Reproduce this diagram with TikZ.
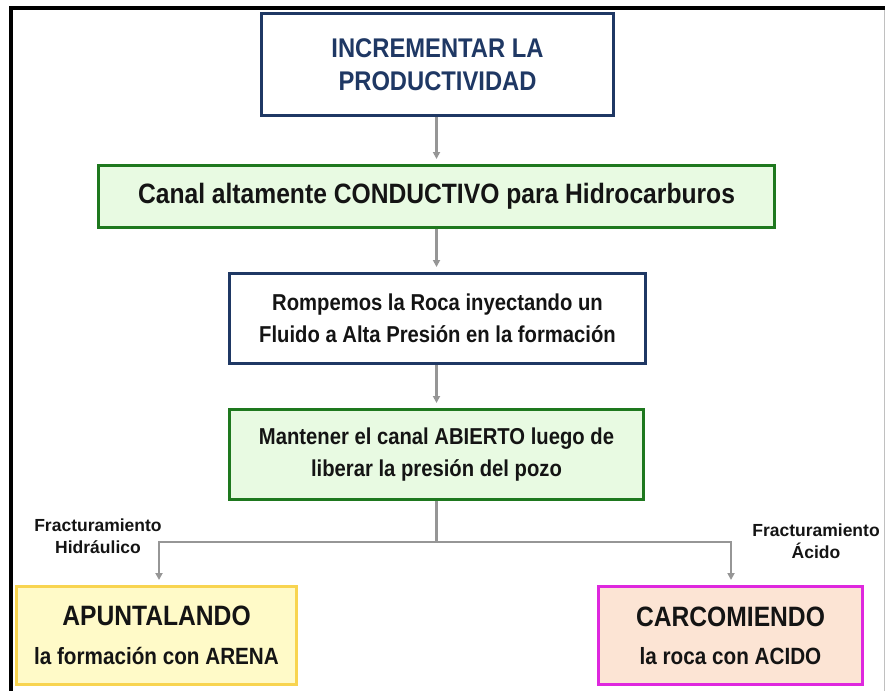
\documentclass[tikz,border=0pt]{standalone}
\usepackage{fontspec}
\setmainfont{Liberation Sans}[FakeStretch=0.88]
\newfontfamily\lblfont{Liberation Sans}
\usetikzlibrary{arrows.meta}
\definecolor{navy}{RGB}{31,56,100}
\definecolor{grnline}{RGB}{30,120,30}
\definecolor{grnfill}{RGB}{232,250,226}
\definecolor{ylwline}{RGB}{248,212,80}
\definecolor{ylwfill}{RGB}{255,250,200}
\definecolor{magline}{RGB}{222,40,222}
\definecolor{pchfill}{RGB}{252,228,212}
\definecolor{connc}{RGB}{150,150,150}
\definecolor{txt}{RGB}{20,20,20}
\tikzset{
  box/.style={draw, line width=3pt, align=center, inner sep=0pt, text=txt},
  bluebox/.style={box, draw=navy, fill=white},
  greenbox/.style={box, draw=grnline, fill=grnfill},
  ylwbox/.style={box, draw=ylwline, fill=ylwfill},
  magbox/.style={box, draw=magline, fill=pchfill},
  conn/.style={draw=connc, line width=2.2pt, -{Triangle[length=7pt,width=7pt]}, shorten >=5pt},
  plain/.style={draw=connc, line width=2.2pt},
  lbl/.style={align=center, inner sep=0pt, text=txt, font=\lblfont\bfseries\fontsize{17.5}{22}\selectfont},
  midfont/.style={font=\bfseries\fontsize{23}{32}\selectfont}
}
\begin{document}
\begin{tikzpicture}[x=1pt,y=-1pt]
\useasboundingbox (0,0) rectangle (885,690);
\draw[line width=4pt] (11,692) -- (11,8.5) -- (887,8.5);
\draw[connc!60, line width=1pt] (884,10) -- (884,692);

\node[bluebox, minimum width=352pt, minimum height=102pt, text=navy,
      font=\bfseries\fontsize{27}{33}\selectfont] (top) at (437.5,64.5) {INCREMENTAR LA\\PRODUCTIVIDAD};
\node[greenbox, minimum width=676pt, minimum height=62pt,
      font=\bfseries\fontsize{28}{32}\selectfont] (canal) at (436.5,196.5) {Canal altamente CONDUCTIVO para Hidrocarburos};
\node[bluebox, midfont, minimum width=416pt, minimum height=90pt] (rompe) at (437.5,318.5)
      {Rompemos la Roca inyectando un\\Fluido a Alta Presión en la formación};
\node[greenbox, midfont, minimum width=414pt, minimum height=90pt] (mant) at (436.5,454.5)
      {Mantener el canal ABIERTO luego de\\liberar la presión del pozo};
\node[ylwbox, minimum width=280pt, minimum height=98pt] (apunt) at (156.5,635.5)
      {{\bfseries\fontsize{28}{32}\selectfont APUNTALANDO}\\[20pt]{\bfseries\fontsize{23.5}{28}\selectfont la formación con ARENA}};
\node[magbox, minimum width=264pt, minimum height=98pt] (carco) at (730.5,635.5)
      {{\bfseries\fontsize{28}{32}\selectfont CARCOMIENDO}\\[20pt]{\bfseries\fontsize{23.5}{28}\selectfont la roca con ACIDO}};

\draw[conn] (top.south -| mant.south) -- (canal.north -| mant.south);
\draw[conn] (canal.south -| mant.south) -- (rompe.north -| mant.south);
\draw[conn] (rompe.south -| mant.south) -- (mant.north);

\coordinate (hL) at (159,542);
\coordinate (hR) at (731,542);
\coordinate (j) at (mant.south |- hL);
\draw[plain] (mant.south) -- (j);
\draw[conn] (j) -- (hL) -- (hL |- apunt.north);
\draw[conn] (j) -- (hR) -- (hR |- carco.north);

\node[lbl] (lh) at (98,536) {Fracturamiento\\Hidráulico};
\node[lbl] (la) at (816,541.5) {Fracturamiento\\Ácido};
\end{tikzpicture}
\end{document}
